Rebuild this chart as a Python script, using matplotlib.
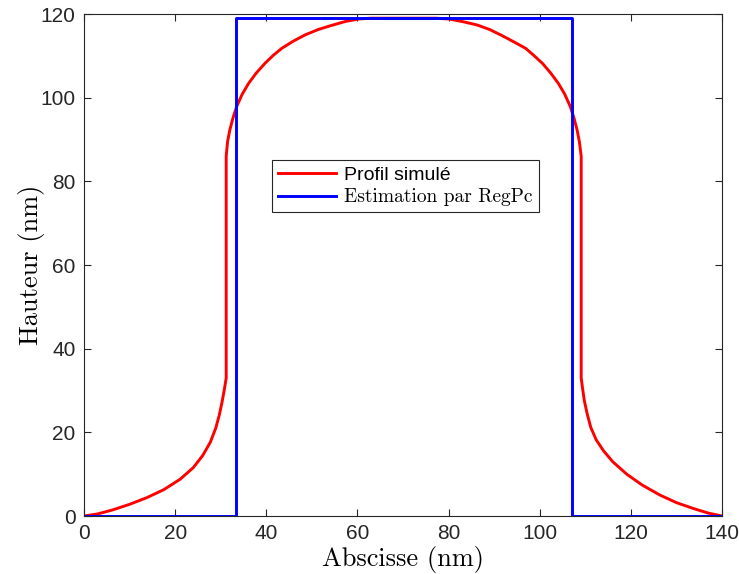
import matplotlib.pyplot as plt

# profil simule
x_sim = [0, 3.0, 6.4, 10.0, 13.8, 17.5, 21.1, 24.0, 26.0, 27.7, 28.9, 29.7, 30.3, 30.8, 31.2,
         31.2, 31.5, 32.0, 32.7, 33.5, 34.7, 36.1, 37.8, 39.7, 41.5, 43.4, 45.9, 48.5, 51.4,
         54.4, 57.3, 60.2, 63.0,
         77.3, 80.1, 83.0, 86.2, 89.0, 91.8, 94.4, 96.9, 98.7, 100.6, 102.4, 104.1, 105.5,
         106.7, 107.5, 108.2, 108.7, 109.1,
         109.1, 109.4, 109.8, 110.4, 111.2, 112.4, 114.0, 116.0, 119.1, 122.5, 126.4, 130.0,
         133.7, 137.0, 140]
y_sim = [0, 0.5, 1.5, 2.8, 4.4, 6.3, 8.8, 11.6, 14.4, 17.6, 21.0, 24.2, 27.3, 30.3, 33.0,
         86.0, 89.5, 92.3, 95.2, 97.9, 100.8, 103.4, 105.9, 108.2, 110.1, 111.8, 113.5, 115.0, 116.3,
         117.3, 118.2, 118.8, 119.0,
         119.0, 118.8, 118.2, 117.4, 116.3, 114.8, 113.3, 111.8, 110.1, 108.2, 105.9, 103.4, 100.8,
         97.9, 95.2, 92.3, 89.5, 86.0,
         33.0, 30.5, 27.5, 24.5, 21.2, 18.2, 15.6, 13.0, 10.0, 7.4, 5.0, 3.2,
         1.8, 0.7, 0]

# estimation RegPc
x_est = [0, 33.3, 33.3, 107.1, 107.1, 140]
y_est = [0, 0, 119, 119, 0, 0]

gris = '#262626'

fig = plt.figure(figsize=(7.39, 5.74), dpi=100)
ax = fig.add_axes([0.1137, 0.101, 0.8633, 0.8746])

ax.plot(x_sim, y_sim, color='red', linewidth=2.1, label='Profil simulé')
ax.plot(x_est, y_est, color='blue', linewidth=2.1, label='Estimation par RegPc')

ax.set_xlim(0, 140)
ax.set_ylim(0, 120)
ax.set_xticks(range(0, 141, 20))
ax.set_yticks(range(0, 121, 20))

for s in ax.spines.values():
    s.set_color(gris)
    s.set_linewidth(0.8)
ax.tick_params(direction='in', top=True, right=True, length=5, width=0.8, colors=gris,
               labelsize=15, pad=6)
for t in ax.get_xticklabels() + ax.get_yticklabels():
    t.set_fontfamily('Liberation Sans')

ax.set_xlabel('Abscisse (nm)', fontfamily='cmr10', fontsize=19, labelpad=2)
ax.set_ylabel('Hauteur (nm)', fontfamily='cmr10', fontsize=19, labelpad=-3)

leg = ax.legend(loc='upper left', bbox_to_anchor=(0.295, 0.709), fontsize=14,
                handlelength=3.0, fancybox=False, framealpha=1, edgecolor=gris,
                borderpad=0.3, labelspacing=0.25, handletextpad=0.4, borderaxespad=0)
leg.get_frame().set_linewidth(0.8)
leg.get_texts()[0].set_fontfamily('Liberation Sans')
leg.get_texts()[1].set_fontfamily('cmr10')

plt.savefig('out.png', dpi=100)
